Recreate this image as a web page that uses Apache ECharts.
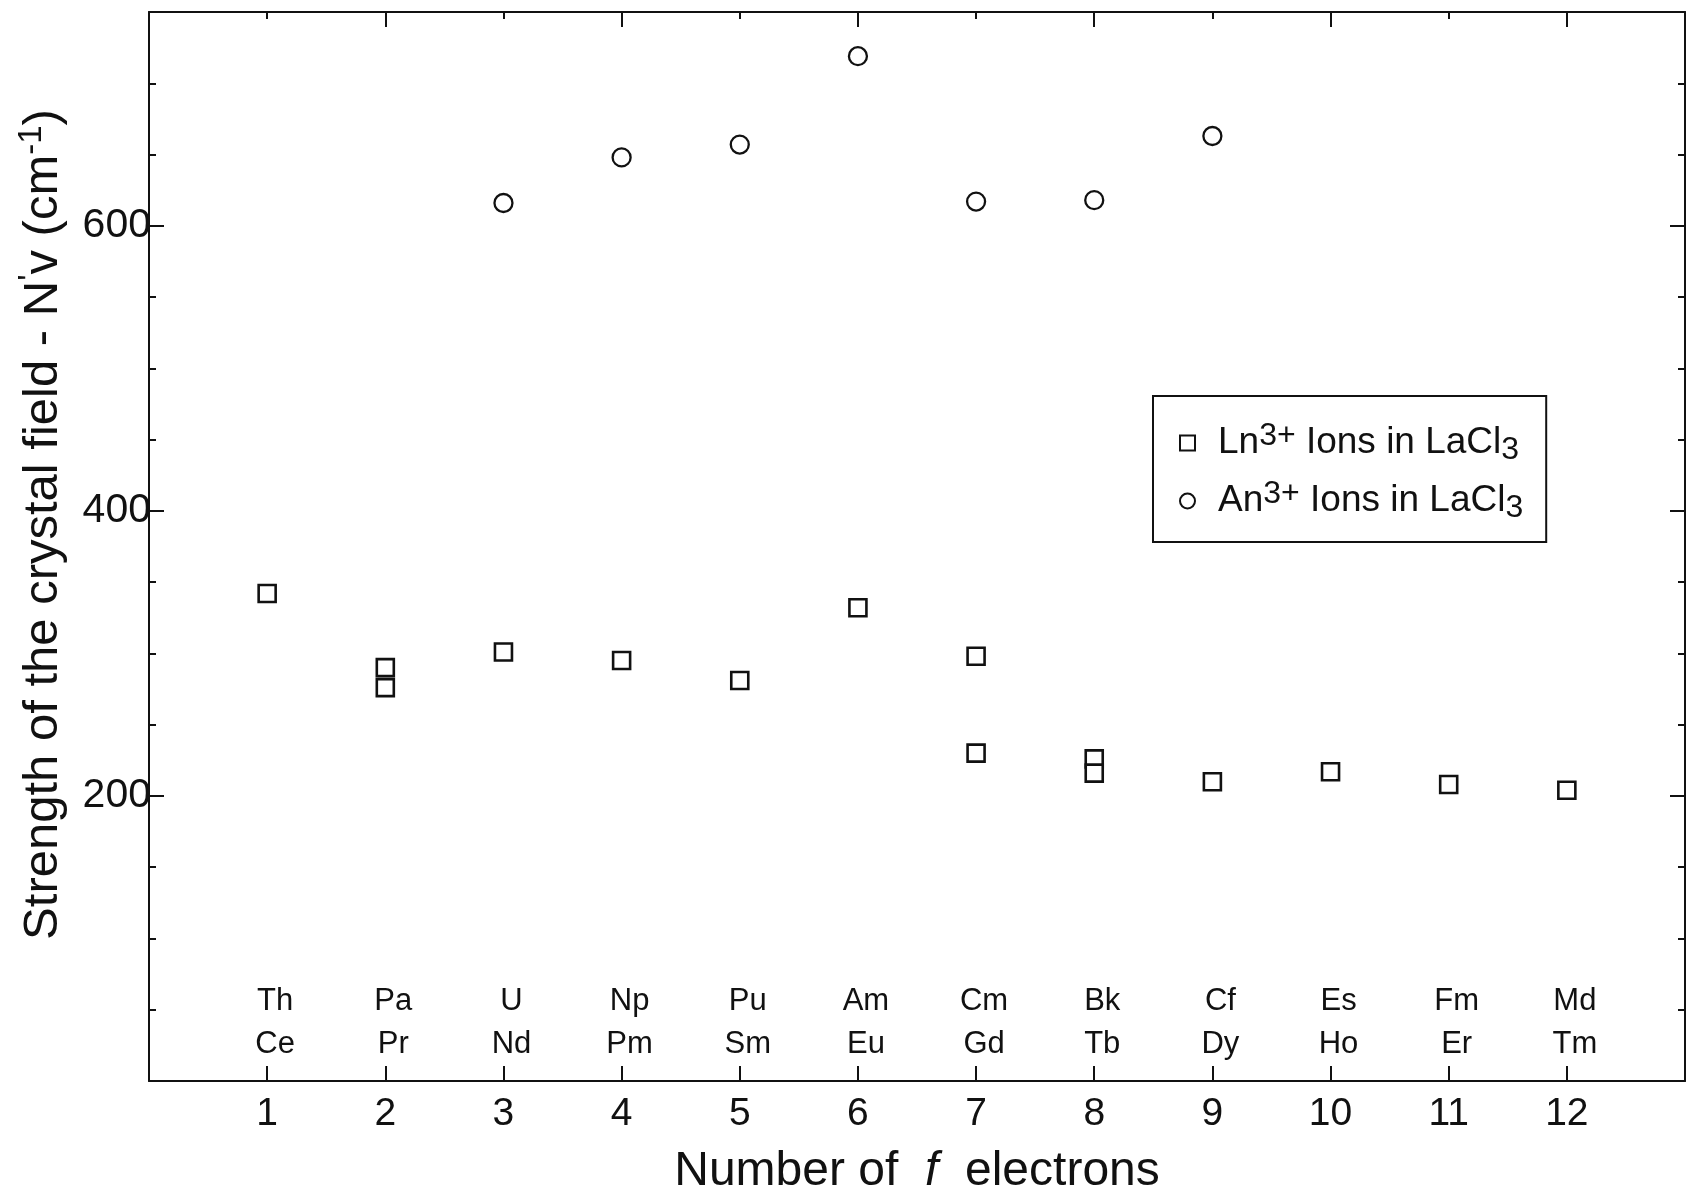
<!DOCTYPE html>
<html>
<head>
<meta charset="utf-8">
<script src="https://cdn.jsdelivr.net/npm/echarts@6/dist/echarts.min.js"></script>
<style>
  html, body { margin: 0; padding: 0; background: #fff; overflow: hidden; }
  #chart { width: 1686px; height: 1193px; }
</style>
</head>
<body>
<div id="chart"></div>
<script>
// values
const fElectrons = [1, 2, 3, 4, 5, 6, 7, 8, 9, 10, 11, 12];
const actinides = ['Th', 'Pa', 'U', 'Np', 'Pu', 'Am', 'Cm', 'Bk', 'Cf', 'Es', 'Fm', 'Md'];
const lanthanides = ['Ce', 'Pr', 'Nd', 'Pm', 'Sm', 'Eu', 'Gd', 'Tb', 'Dy', 'Ho', 'Er', 'Tm'];

// Ln3+ in LaCl3 (squares)
const lnX = [1, 2, 2, 3, 4, 5, 6, 7, 7, 8, 8, 9, 10, 11, 12];
const lnY = [342, 290, 276, 301, 295, 281, 332, 298, 230, 226, 216, 210, 217, 208, 204];

// An3+ in LaCl3 (circles)
const anX = [3, 4, 5, 6, 7, 8, 9];
const anY = [616, 648, 657, 719, 617, 618, 663];

const yLabels = [200, 400, 600];

const FONT = '"Liberation Sans", Arial, sans-serif';
const black = '#111';

const chart = echarts.init(document.getElementById('chart'));

const xBase = { type: 'value', min: 0, max: 13, interval: 1, splitLine: { show: false } };
const yBase = { type: 'value', min: 0, max: 750, splitLine: { show: false } };
const line = { show: true, onZero: false, lineStyle: { color: black, width: 2 } };
const noLine = { show: false, onZero: false };

const option = {
    animation: false,
    backgroundColor: '#fff',
    grid: { left: 149, right: 1, top: 12, bottom: 112, containLabel: false, outerBoundsMode: 'none' },
    xAxis: [
        {
            ...xBase, position: 'bottom',
            axisLine: line,
            axisTick: { inside: true, length: 15, lineStyle: { color: black, width: 2 } },
            axisLabel: {
                fontFamily: FONT, fontSize: 39, color: black, margin: 14,
                formatter: v => fElectrons.includes(v) ? String(v) : ''
            },
            name: 'Number of  {i|f}  electrons',
            nameLocation: 'middle',
            nameGap: 67,
            nameTextStyle: {
                fontFamily: FONT, fontSize: 48, color: black,
                rich: { i: { fontFamily: FONT, fontSize: 48, fontStyle: 'italic', color: black } }
            }
        },
        {
            // element symbols drawn as inner labels of a second bottom axis
            ...xBase, position: 'bottom',
            axisLine: noLine, axisTick: { show: false },
            axisLabel: {
                inside: true, margin: 15, fontFamily: FONT, fontSize: 31, color: black,
                lineHeight: 43, padding: [0, 0, 0, 16],
                formatter: v => {
                    const i = fElectrons.indexOf(v);
                    return i < 0 ? '' : actinides[i] + '\n' + lanthanides[i];
                }
            }
        },
        {
            ...xBase, position: 'top',
            axisLine: line,
            axisTick: { inside: true, length: 7, lineStyle: { color: black, width: 2 } },
            axisLabel: { show: false }
        },
        {
            ...xBase, interval: 2, position: 'top',
            axisLine: noLine,
            axisTick: { inside: true, length: 15, lineStyle: { color: black, width: 2 } },
            axisLabel: { show: false }
        }
    ],
    yAxis: [
        {
            ...yBase, interval: 50, position: 'left',
            axisLine: line,
            axisTick: { inside: true, length: 7, lineStyle: { color: black, width: 2 } },
            axisLabel: {
                fontFamily: FONT, fontSize: 41, color: black, margin: -2,
                formatter: v => yLabels.includes(v) ? String(v) : ''
            },
            name: "Strength of the crystal field - N{sup|'}v (cm{sup|-1})",
            nameLocation: 'middle',
            nameGap: 68,
            nameTextStyle: {
                fontFamily: FONT, fontSize: 49, color: black, lineHeight: 56,
                padding: [0, 0, 0, 44],
                rich: {
                    sup: { fontFamily: FONT, fontSize: 33, color: black, verticalAlign: 'top', lineHeight: 30 }
                }
            }
        },
        {
            ...yBase, interval: 200, position: 'left',
            axisLine: noLine,
            axisTick: { inside: true, length: 15, lineStyle: { color: black, width: 2 } },
            axisLabel: { show: false }
        },
        {
            ...yBase, interval: 50, position: 'right',
            axisLine: line,
            axisTick: { inside: true, length: 7, lineStyle: { color: black, width: 2 } },
            axisLabel: { show: false }
        },
        {
            ...yBase, interval: 200, position: 'right',
            axisLine: noLine,
            axisTick: { inside: true, length: 15, lineStyle: { color: black, width: 2 } },
            axisLabel: { show: false }
        }
    ],
    legend: {
        orient: 'vertical',
        left: 1153,
        top: 396,
        padding: [24, 23, 18, 26],
        itemGap: 12,
        itemWidth: 15,
        itemHeight: 15,
        borderColor: black,
        borderWidth: 2,
        itemStyle: { color: '#fff', borderColor: black, borderWidth: 2 },
        data: [
            { name: 'Ln', icon: 'rect' },
            { name: 'An', icon: 'circle' }
        ],
        formatter: name => name + '{sup|3+} Ions in LaCl{sub|3}',
        textStyle: {
            fontFamily: FONT, fontSize: 37, color: black, lineHeight: 46,
            padding: [0, 0, 0, 18],
            rich: {
                sup: { fontFamily: FONT, fontSize: 32, color: black, verticalAlign: 'top', lineHeight: 30 },
                sub: { fontFamily: FONT, fontSize: 32, color: black, verticalAlign: 'bottom', lineHeight: 30 }
            }
        }
    },
    series: [
        {
            name: 'Ln',
            type: 'scatter',
            xAxisIndex: 0, yAxisIndex: 0,
            symbol: 'rect',
            symbolSize: 17,
            itemStyle: { color: '#fff', borderColor: black, borderWidth: 2.6, opacity: 1 },
            data: lnX.map((x, i) => [x, lnY[i]])
        },
        {
            name: 'An',
            type: 'scatter',
            xAxisIndex: 0, yAxisIndex: 0,
            symbol: 'circle',
            symbolSize: 18,
            itemStyle: { color: '#fff', borderColor: black, borderWidth: 2.3, opacity: 1 },
            data: anX.map((x, i) => [x, anY[i]])
        }
    ]
};

chart.setOption(option);
</script>
</body>
</html>
